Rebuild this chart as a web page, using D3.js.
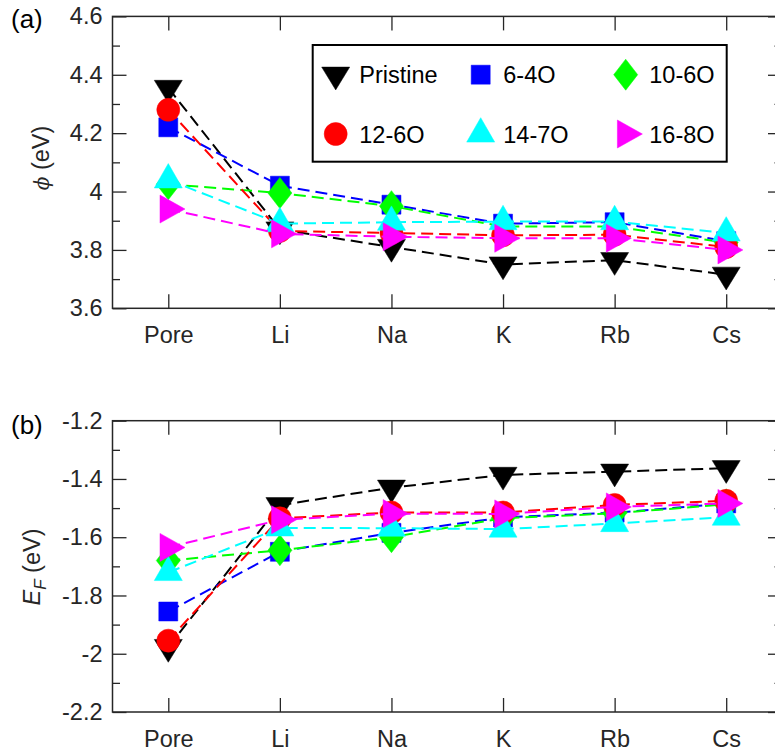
<!DOCTYPE html>
<html lang="en">
  <head>
    <meta charset="utf-8">
    <title>Work function and Fermi level</title>
    <script type="text/javascript" src="https://cdn.jsdelivr.net/npm/d3@7/dist/d3.min.js"></script>
    <style>
      body {
        margin: 0;
        background: #fff;
      }
      svg text {
        font-family: "Liberation Sans", Arial, sans-serif;
      }
    </style>
  </head>
  <body>
    <script type="text/javascript">

      // categories along x
      var categories = ["Pore", "Li", "Na", "K", "Rb", "Cs"];
      var seriesNames = ["Pristine", "6-4O", "10-6O", "12-6O", "14-7O", "16-8O"];

      // (a) work function phi, eV
      var phiPristine = [4.355, 3.87, 3.81, 3.75, 3.765, 3.715];
      var phi6_4O     = [4.22, 4.02, 3.955, 3.89, 3.895, 3.83];
      var phi10_6O    = [4.025, 3.995, 3.95, 3.88, 3.88, 3.825];
      var phi12_6O    = [4.28, 3.865, 3.858, 3.85, 3.852, 3.81];
      var phi14_7O    = [4.04, 3.89, 3.895, 3.897, 3.897, 3.858];
      var phi16_8O    = [3.94, 3.855, 3.845, 3.84, 3.84, 3.80];

      // (b) Fermi level E_F, eV
      var efPristine = [-1.977, -1.49, -1.43, -1.386, -1.375, -1.363];
      var ef6_4O     = [-1.855, -1.65, -1.585, -1.532, -1.516, -1.484];
      var ef10_6O    = [-1.68, -1.645, -1.60, -1.535, -1.518, -1.487];
      var ef12_6O    = [-1.955, -1.535, -1.515, -1.515, -1.489, -1.475];
      var ef14_7O    = [-1.721, -1.568, -1.569, -1.572, -1.553, -1.531];
      var ef16_8O    = [-1.635, -1.54, -1.519, -1.52, -1.496, -1.484];

      // tick values
      var phiTicks = [3.6, 3.8, 4, 4.2, 4.4, 4.6];
      var phiTickLabels = ["3.6", "3.8", "4", "4.2", "4.4", "4.6"];
      var efTicks = [-2.2, -2, -1.8, -1.6, -1.4, -1.2];
      var efTickLabels = ["-2.2", "-2", "-1.8", "-1.6", "-1.4", "-1.2"];

      var colors = ["#000000", "#0000ff", "#00ff00", "#ff0000", "#00ffff", "#ff00ff"];
      var markers = ["v", "s", "d", "o", "^", ">"];

      var phiData = [phiPristine, phi6_4O, phi10_6O, phi12_6O, phi14_7O, phi16_8O];
      var efData = [efPristine, ef6_4O, ef10_6O, ef12_6O, ef14_7O, ef16_8O];

      var W = 775, H = 755;
      var axisColor = "#262626";

      var svg = d3.select("body")
            .append("svg")
            .attr("width", W)
            .attr("height", H);

      svg.append("rect").attr("width", W).attr("height", H).attr("fill", "#fff");

      var xScale = d3.scaleLinear()
                 .domain([0.5, 6.5])
                 .range([112.5, 782]);

      // marker outlines, centred on the data point
      function markerPath(m) {
        if (m === "v") return "M-14,-7.6L14,-7.6L0,15.2Z";
        if (m === "^") return "M-14,8.1L14,8.1L0,-16.3Z";
        if (m === ">") return "M-8.3,-14L16.7,0L-8.3,14Z";
        if (m === "d") return "M0,-15.5L12,0L0,15.5L-12,0Z";
        if (m === "s") return "M-9.5,-9.5L9.5,-9.5L9.5,9.5L-9.5,9.5Z";
        // circle
        return d3.symbol().type(d3.symbolCircle).size(Math.PI * 11.5 * 11.5)();
      }

      function drawPanel(data, domain, top, bottom, majorTicks, tickLabels, labelFn, labelPos, panelTag, tagY) {

        var yScale = d3.scaleLinear()
                   .domain(domain)
                   .range([bottom, top]);

        var minorTicks = d3.range(domain[0] + 0.1, domain[1] - 0.05, 0.2);

        var g = svg.append("g");

        //Create left axis
        g.append("g")
          .attr("transform", "translate(112.5,0)")
          .call(d3.axisLeft(yScale)
                  .tickValues(majorTicks)
                  .tickFormat(function(d, i) { return tickLabels[i]; })
                  .tickSize(-14)
                  .tickSizeOuter(0)
                  .tickPadding(10));

        g.append("g")
          .attr("transform", "translate(112.5,0)")
          .call(d3.axisLeft(yScale).tickValues(minorTicks).tickFormat("").tickSize(-7.5).tickSizeOuter(0));

        //Create right axis (ticks only)
        g.append("g")
          .attr("transform", "translate(782,0)")
          .call(d3.axisRight(yScale).tickValues(majorTicks).tickFormat("").tickSize(-14).tickSizeOuter(0));
        g.append("g")
          .attr("transform", "translate(782,0)")
          .call(d3.axisRight(yScale).tickValues(minorTicks).tickFormat("").tickSize(-7.5).tickSizeOuter(0));

        //Create bottom axis
        g.append("g")
          .attr("transform", "translate(0," + bottom + ")")
          .call(d3.axisBottom(xScale)
                  .tickValues(d3.range(1, categories.length + 1))
                  .tickFormat(function(d) { return categories[d - 1]; })
                  .tickSize(-14)
                  .tickSizeOuter(0)
                  .tickPadding(18));

        //Create top axis
        g.append("g")
          .attr("transform", "translate(0," + top + ")")
          .call(d3.axisTop(xScale).tickValues(d3.range(1, categories.length + 1)).tickFormat("").tickSize(-14).tickSizeOuter(0));

        g.selectAll(".domain").remove();
        g.selectAll(".tick line").attr("stroke", axisColor).attr("stroke-width", 1.3);
        g.selectAll(".tick text")
          .attr("fill", axisColor)
          .attr("font-size", "23.5px");

        // box
        g.append("rect")
          .attr("x", 112.5)
          .attr("y", top)
          .attr("width", 782 - 112.5)
          .attr("height", bottom - top)
          .attr("fill", "none")
          .attr("stroke", axisColor)
          .attr("stroke-width", 1.5);

        var line = d3.line()
                  .x(function(d, i) { return xScale(i + 1); })
                  .y(function(d) { return yScale(d); });

        // series: line then markers, in drawing order
        data.forEach(function(vals, s) {
          var sg = g.append("g");
          sg.append("path")
            .attr("d", line(vals))
            .attr("fill", "none")
            .attr("stroke", colors[s])
            .attr("stroke-width", 2)
            .attr("stroke-dasharray", "12,6");

          sg.selectAll("path.mk")
            .data(vals)
            .enter()
            .append("path")
            .attr("class", "mk")
            .attr("d", markerPath(markers[s]))
            .attr("transform", function(d, i) {
              return "translate(" + xScale(i + 1) + "," + yScale(d) + ")";
            })
            .attr("fill", colors[s])
            .attr("stroke", colors[s])
            .attr("stroke-width", 0.5);
        });

        // y label
        var yl = svg.append("text")
          .attr("transform", "translate(" + labelPos[0] + "," + labelPos[1] + ") rotate(-90)")
          .attr("text-anchor", "middle")
          .attr("font-size", "23.5px")
          .attr("fill", axisColor);
        labelFn(yl);

        // panel tag
        svg.append("text")
          .attr("x", 11)
          .attr("y", tagY)
          .attr("font-size", "26px")
          .attr("fill", "#000")
          .text(panelTag);

        return yScale;
      }

      drawPanel(phiData, [3.6, 4.6], 16.4, 308.3, phiTicks, phiTickLabels,
        function(t) {
          t.append("tspan").attr("font-style", "italic").attr("font-family", "DejaVu Serif, serif").attr("font-size", "20px").text("\u03d5");
          t.append("tspan").text(" (eV)");
        }, [49, 158], "(a)", 28);

      drawPanel(efData, [-2.2, -1.2], 420.7, 712, efTicks, efTickLabels,
        function(t) {
          t.append("tspan").attr("font-style", "italic").text("E");
          t.append("tspan").attr("font-style", "italic").attr("font-size", "17px").attr("dy", 6).text("F");
          t.append("tspan").attr("dy", -6).text(" (eV)");
        }, [40, 567], "(b)", 434);

      // legend
      var legend = svg.append("g");
      legend.append("rect")
        .attr("x", 312.7)
        .attr("y", 45)
        .attr("width", 726.7 - 312.7)
        .attr("height", 161.7 - 45)
        .attr("fill", "#fff")
        .attr("stroke", "#000")
        .attr("stroke-width", 2);

      var legendCols = [335.7, 480.7, 625.7];
      var legendTextX = [359.3, 503.3, 649.3];
      var legendRows = [74.7, 134];

      seriesNames.forEach(function(name, s) {
        var col = s % 3, row = Math.floor(s / 3);
        legend.append("path")
          .attr("d", markerPath(markers[s]))
          .attr("transform", "translate(" + legendCols[col] + "," + legendRows[row] + ")")
          .attr("fill", colors[s])
          .attr("stroke", colors[s])
          .attr("stroke-width", 0.5);
        legend.append("text")
          .attr("x", legendTextX[col])
          .attr("y", legendRows[row] + 8.6)
          .attr("font-size", "23.5px")
          .attr("fill", "#000")
          .text(name);
      });

    </script>
  </body>
</html>
